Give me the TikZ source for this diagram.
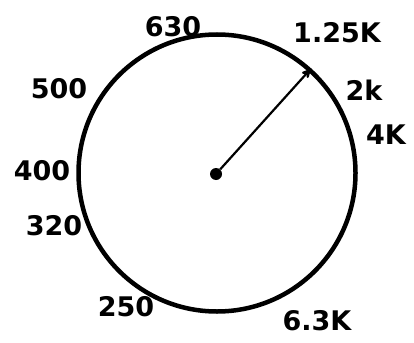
\documentclass[tikz,border=0pt]{standalone}
\usepackage{fontspec}
\setmainfont{DejaVu Sans}
\usepackage{tikz}
\usetikzlibrary{arrows}
\tikzset{>=stealth'}
\tikzset{band/.style={font=\fontsize{27}{27}\selectfont\bfseries,inner sep=0pt}}

\begin{document}
\begin{tikzpicture}[x=1pt,y=-1pt]
\useasboundingbox (0,0) rectangle (414,342);
% dial
\node[draw,circle,line width=4.5pt,minimum size=277pt,inner sep=0pt] (ring) at (217,173) {};
\node[circle,fill,minimum size=12pt,inner sep=0pt] (hub) at (216,174) {};
\draw[->,line width=2.2pt] (hub) -- (ring.48);
% band labels
\node[band] (f630) at (173,27) {630};
\node[band] (f1k25) at (337,33) {1.25K};
\node[band] (f2k) at (364,90) {2k};
\node[band] (f4k) at (386,135) {4K};
\node[band] (f500) at (59,89) {500};
\node[band] (f400) at (42,171) {400};
\node[band] (f320) at (54,226) {320};
\node[band] (f250) at (126,307) {250};
\node[band] (f6k3) at (317,321) {6.3K};
\end{tikzpicture}
\end{document}
